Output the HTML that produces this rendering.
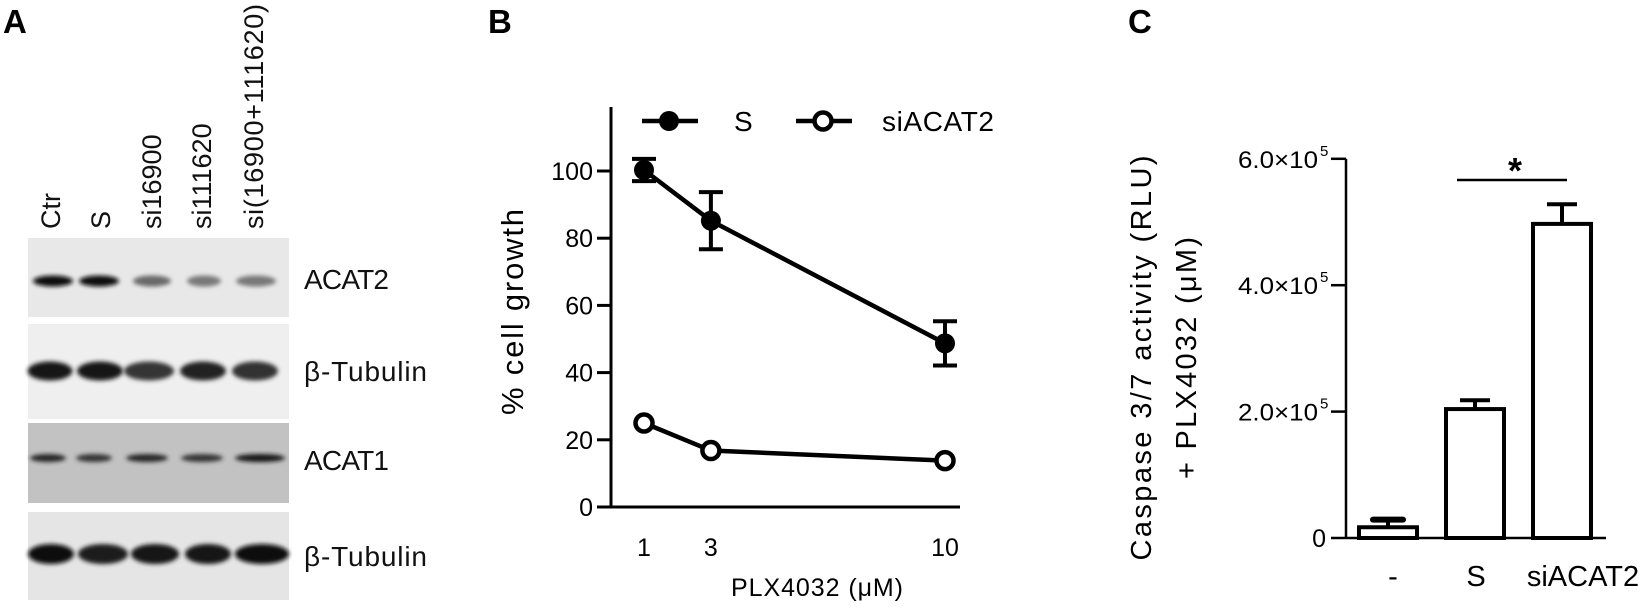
<!DOCTYPE html>
<html><head><meta charset="utf-8"><style>
html,body{margin:0;padding:0;background:#fff;}
svg{display:block;font-family:"Liberation Sans",sans-serif;}
</style></head><body>
<svg id="fig" width="1649" height="611" viewBox="0 0 1649 611" xmlns="http://www.w3.org/2000/svg">
<defs>
<filter id="blur" x="-20%" y="-100%" width="140%" height="300%"><feGaussianBlur stdDeviation="2.2"/></filter>
</defs>
<g>
<text x="3" y="33" font-size="33" font-weight="bold">A</text>
<g font-size="27" fill="#111">
<text transform="translate(60,229) rotate(-90)">Ctr</text>
<text transform="translate(110,229) rotate(-90)">S</text>
<text transform="translate(161,229) rotate(-90)">si16900</text>
<text transform="translate(211,229) rotate(-90)">si111620</text>
<text transform="translate(263,229) rotate(-90)" textLength="225">si(16900+111620)</text>
</g>
<g id="blots"></g>
<g font-size="28" fill="#111">
<text x="304" y="289" textLength="85">ACAT2</text>
<text x="304" y="381" textLength="123">β-Tubulin</text>
<text x="304" y="470" textLength="85">ACAT1</text>
<text x="304" y="566" textLength="123">β-Tubulin</text>
</g>
</g>
<g id="panelB">
<text x="488" y="33" font-size="33" font-weight="bold">B</text>
</g>
<g id="panelC">
<text x="1128" y="33" font-size="33" font-weight="bold">C</text>
</g>
</svg>
<script>
const NS="http://www.w3.org/2000/svg";
function mk(parent,tag,attrs,txt){const e=document.createElementNS(NS,tag);for(const k in attrs)e.setAttribute(k,attrs[k]);if(txt!==undefined)e.textContent=txt;parent.appendChild(e);return e;}

// ---------- Panel A blots ----------
const blotNames=['acat2','tubulin-1','acat1','tubulin-2'];
const blotBg=['#e8e8e8','#efefef','#c2c2c2','#e5e5e5'];
const blotTop=[238,324,423,512];
const blotBottom=[317,419,503,600];
const bandY=[281,371,458,554];
const bandH=[11,19,8,20];
const bandIntensity=[[1,1,0.4,0.3,0.3],[0.95,0.95,0.75,0.88,0.78],[0.85,0.75,0.85,0.75,0.95],[1,0.9,0.95,0.95,1]];
const laneX=[[53,99,152,204,256],[50,100,149,203,255],[48,94,147,202,260],[51,103,155,208,262]];
const laneW=[[40,40,38,34,40],[45,46,50,46,46],[36,36,42,42,50],[46,50,48,46,54]];
const blots=document.getElementById('blots');
blotNames.forEach((nm,i)=>{
  const r=mk(blots,'rect',{x:28,y:blotTop[i],width:261,height:blotBottom[i]-blotTop[i],fill:blotBg[i]});
  
  
  laneX[i].forEach((lx,j)=>{
    const a=bandIntensity[i][j];
    const g=Math.round(15+(1-a)*150);
    const e=mk(blots,'ellipse',{cx:lx,cy:bandY[i],rx:laneW[i][j]/2,ry:bandH[i]/2,fill:`rgb(${g},${g},${g})`,filter:'url(#blur)'});
    
    
  });
});

// ---------- Panel B line chart ----------
const bDoses=[1,3,10];
const bSMean=[100.3,85.2,48.7];
const bSErr=[3.3,8.5,6.6];
const bSiMean=[25,16.8,13.8];
const bYTicks=[0,20,40,60,80,100];
const bXTicks=[1,3,10];
const B=document.getElementById('panelB');
const bx=v=>644+(v-1)*(945-644)/9;
const by=v=>507-v*3.36;
let el;
el=mk(B,'line',{x1:611,y1:107,x2:611,y2:by(0),stroke:'#000','stroke-width':3});


el=mk(B,'line',{x1:597,y1:by(0),x2:960,y2:by(0),stroke:'#000','stroke-width':3});


bYTicks.forEach(t=>{
  if(t>0){el=mk(B,'line',{x1:597,y1:by(t),x2:611,y2:by(t),stroke:'#000','stroke-width':3});
  
  }
  el=mk(B,'text',{x:593,y:by(t)+9,'text-anchor':'end','font-size':25},String(t));
  
  
});
bXTicks.forEach(t=>{
  el=mk(B,'text',{x:bx(t),y:556,'text-anchor':'middle','font-size':25},String(t));
  
  
});
el=mk(B,'text',{x:817,y:596,'text-anchor':'middle','font-size':25,textLength:172},'PLX4032 (μM)');


el=mk(B,'text',{transform:'translate(523,312) rotate(-90)','text-anchor':'middle','font-size':31,textLength:206},'% cell growth');


el=mk(B,'polyline',{points:bDoses.map((d,i)=>bx(d)+','+by(bSMean[i])).join(' '),fill:'none',stroke:'#000','stroke-width':4.5});


bDoses.forEach((d,i)=>{
  const x=bx(d),hi=by(bSMean[i]+bSErr[i]),lo=by(bSMean[i]-bSErr[i]);
  el=mk(B,'path',{d:`M${x},${hi}V${lo}M${x-12},${hi}H${x+12}M${x-12},${lo}H${x+12}`,stroke:'#000','stroke-width':4,fill:'none'});
  
  
  el=mk(B,'circle',{cx:x,cy:by(bSMean[i]),r:10,fill:'#000'});
  
  
});
el=mk(B,'polyline',{points:bDoses.map((d,i)=>bx(d)+','+by(bSiMean[i])).join(' '),fill:'none',stroke:'#000','stroke-width':4.5});


bDoses.forEach((d,i)=>{
  el=mk(B,'circle',{cx:bx(d),cy:by(bSiMean[i]),r:8.5,fill:'#fff',stroke:'#000','stroke-width':4.5});
  
  
});
el=mk(B,'line',{x1:642,y1:121,x2:698,y2:121,stroke:'#000','stroke-width':4.5});


el=mk(B,'circle',{cx:669,cy:121,r:10,fill:'#000'});


el=mk(B,'text',{x:734,y:131,'font-size':28},'S');


el=mk(B,'line',{x1:796,y1:121,x2:852,y2:121,stroke:'#000','stroke-width':4.5});


el=mk(B,'circle',{cx:823,cy:121,r:8.5,fill:'#fff',stroke:'#000','stroke-width':4.5});


el=mk(B,'text',{x:882,y:131,'font-size':28,textLength:112},'siACAT2');



// ---------- Panel C bar chart ----------
const cCats=['-','S','siACAT2'];
const cMean=[0.17,2.04,4.97];
const cErr=[0.12,0.14,0.31];
const cTicks=[0,2,4,6];
const cTickLabels=['0','2.0×10','4.0×10','6.0×10'];
const C=document.getElementById('panelC');
const cy=v=>538-v*63.2;
const cLeft=1359,cW=58,cStep=87;
el=mk(C,'line',{x1:1346,y1:cy(6),x2:1346,y2:cy(0),stroke:'#000','stroke-width':2.5});


el=mk(C,'line',{x1:1331,y1:cy(0),x2:1606,y2:cy(0),stroke:'#000','stroke-width':2.5});


cTicks.forEach((t,i)=>{
  if(t>0){el=mk(C,'line',{x1:1331,y1:cy(t),x2:1346,y2:cy(t),stroke:'#000','stroke-width':2.5});
  
  }
  if(t===0){
    el=mk(C,'text',{x:1326,y:cy(t)+9,'text-anchor':'end','font-size':25},cTickLabels[i]);
  } else {
    el=mk(C,'text',{x:1318,y:cy(t)+9,'text-anchor':'end','font-size':24,textLength:80,lengthAdjust:'spacingAndGlyphs'},cTickLabels[i]);
    const s=mk(C,'text',{x:1320,y:cy(t)-3,'font-size':15},'5');
    
    
  }
  
  
});
cCats.forEach((c,i)=>{
  const x=cLeft+i*cStep;
  const top=cy(cMean[i]),et=cy(cMean[i]+cErr[i]);
  el=mk(C,'line',{x1:x+cW/2,y1:top,x2:x+cW/2,y2:et,stroke:'#000','stroke-width':4});
  
  
  el=mk(C,'line',{x1:x+cW/2-15,y1:et,x2:x+cW/2+15,y2:et,stroke:'#000','stroke-width':i===0?6:4,'stroke-linecap':i===0?'round':'butt'});
  
  
  el=mk(C,'rect',{x:x,y:top,width:cW,height:cy(0)-top,fill:'#fff',stroke:'#000','stroke-width':4});
  
  
});
const catLX=[1393,1476,1583];
cCats.forEach((c,i)=>{
  el=mk(C,'text',{x:catLX[i],y:586,'text-anchor':'middle','font-size':29},c);
  
  
});
el=mk(C,'line',{x1:1457,y1:180,x2:1567,y2:180,stroke:'#000','stroke-width':2.5});


el=mk(C,'text',{x:1515,y:183,'text-anchor':'middle','font-size':36,'font-weight':'bold'},'*');


el=mk(C,'text',{transform:'translate(1151,358) rotate(-90)','text-anchor':'middle','font-size':29,textLength:405},'Caspase 3/7 activity (RLU)');


el=mk(C,'text',{transform:'translate(1196,358) rotate(-90)','text-anchor':'middle','font-size':29,textLength:242},'+ PLX4032 (μM)');


</script>
</body></html>
